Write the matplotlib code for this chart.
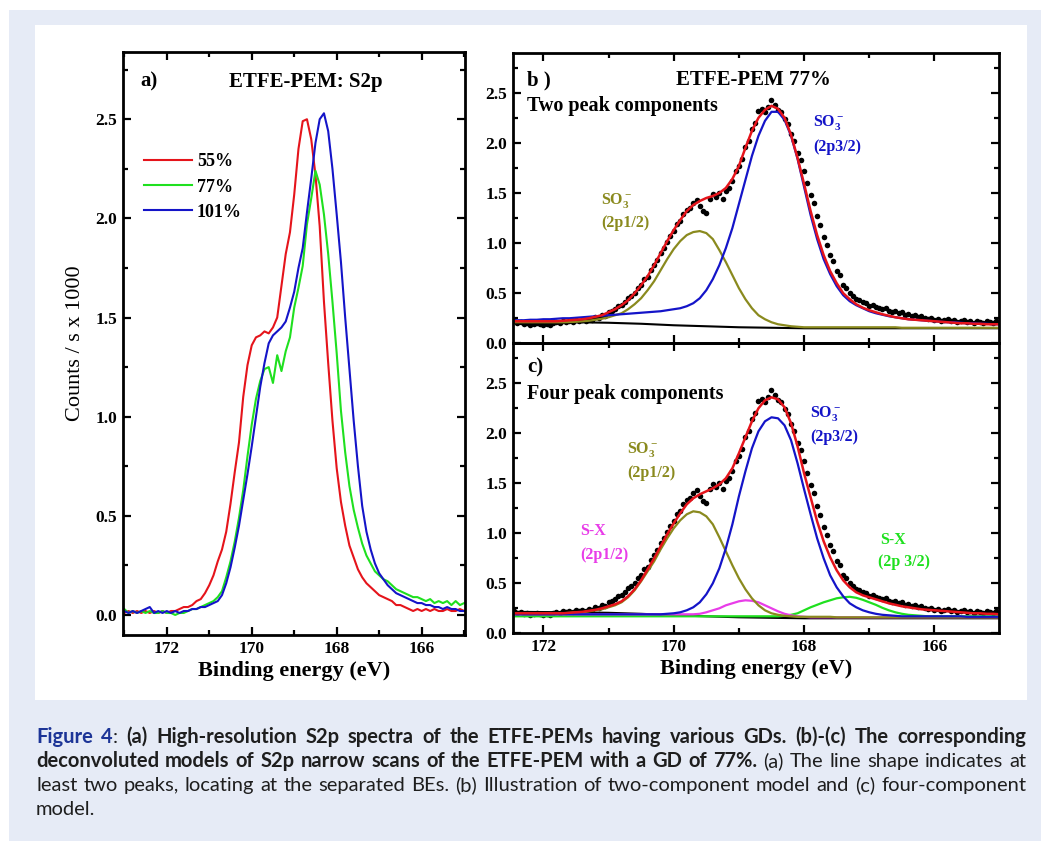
import numpy as np
import matplotlib
matplotlib.use('Agg')
import matplotlib.pyplot as plt
from matplotlib import font_manager
from matplotlib.patches import Rectangle
from matplotlib.ticker import MultipleLocator, FormatStrFormatter

plt.rcParams['font.family'] = ['Liberation Serif', 'DejaVu Serif']
plt.rcParams['font.weight'] = 'bold'
plt.rcParams['axes.labelweight'] = 'bold'
plt.rcParams['mathtext.fontset'] = 'custom'
plt.rcParams['mathtext.rm'] = 'Liberation Serif:bold'
plt.rcParams['mathtext.bf'] = 'Liberation Serif:bold'
plt.rcParams['mathtext.it'] = 'Liberation Serif:bold'
plt.rcParams['mathtext.default'] = 'bf'

W, H = 1041, 841

# ---------------- panel a: S2p spectra, 0.1 eV steps 173.0 -> 165.0
be_a = np.linspace(173.0, 165.0, 81)
s2p_55 = [0.01, 0.02, 0.01, 0.02, 0.01, 0.02, 0.01, 0.02, 0.01, 0.02,
          0.01, 0.02, 0.02, 0.03, 0.04, 0.04, 0.05, 0.07, 0.08, 0.11,
          0.15, 0.20, 0.27, 0.33, 0.42, 0.56, 0.72, 0.87, 1.10, 1.26,
          1.36, 1.40, 1.41, 1.43, 1.42, 1.45, 1.50, 1.66, 1.82, 1.93,
          2.12, 2.35, 2.49, 2.50, 2.40, 2.22, 1.96, 1.58, 1.27, 0.98,
          0.74, 0.57, 0.45, 0.35, 0.29, 0.23, 0.19, 0.16, 0.14, 0.12,
          0.10, 0.09, 0.08, 0.07, 0.05, 0.05, 0.04, 0.03, 0.02, 0.03,
          0.02, 0.03, 0.02, 0.03, 0.02, 0.02, 0.03, 0.02, 0.02, 0.03,
          0.02]
s2p_77 = [0.03, 0.01, 0.02, 0.01, 0.02, 0.01, 0.02, 0.01, 0.01, 0.02,
          0.01, 0.01, 0.00, 0.01, 0.01, 0.02, 0.03, 0.03, 0.04, 0.05,
          0.06, 0.07, 0.09, 0.12, 0.19, 0.27, 0.37, 0.49, 0.63, 0.80,
          0.96, 1.09, 1.18, 1.24, 1.25, 1.17, 1.31, 1.23, 1.33, 1.40,
          1.55, 1.65, 1.76, 1.97, 2.10, 2.24, 2.17, 2.02, 1.82, 1.58,
          1.32, 1.03, 0.82, 0.65, 0.53, 0.44, 0.36, 0.30, 0.26, 0.22,
          0.20, 0.18, 0.17, 0.15, 0.13, 0.12, 0.11, 0.10, 0.09, 0.09,
          0.08, 0.07, 0.08, 0.06, 0.07, 0.06, 0.07, 0.05, 0.07, 0.05,
          0.06]
s2p_101 = [0.02, 0.01, 0.02, 0.01, 0.02, 0.03, 0.04, 0.01, 0.02, 0.01,
           0.02, 0.01, 0.02, 0.01, 0.02, 0.02, 0.03, 0.03, 0.04, 0.04,
           0.05, 0.06, 0.07, 0.10, 0.16, 0.24, 0.34, 0.45, 0.58, 0.71,
           0.85, 1.00, 1.15, 1.27, 1.37, 1.41, 1.43, 1.45, 1.48, 1.55,
           1.63, 1.75, 1.85, 2.03, 2.20, 2.38, 2.50, 2.53, 2.44, 2.25,
           2.02, 1.78, 1.50, 1.24, 0.98, 0.75, 0.55, 0.42, 0.33, 0.26,
           0.21, 0.18, 0.15, 0.13, 0.11, 0.10, 0.09, 0.08, 0.07, 0.06,
           0.06, 0.05, 0.05, 0.04, 0.04, 0.03, 0.04, 0.03, 0.03, 0.02,
           0.02]
labels_a = ['55%', '77%', '101%']

# ---------------- panels b, c: ETFE-PEM 77 % measured points, 0.05 eV steps 172.5 -> 165.0
meas_77 = [0.21, 0.22, 0.20, 0.21, 0.19, 0.20, 0.18, 0.19, 0.20, 0.19, 0.18,
           0.19, 0.18, 0.20, 0.21, 0.20, 0.22, 0.21, 0.22, 0.21, 0.23,
           0.22, 0.23, 0.22, 0.24, 0.23, 0.26, 0.25, 0.28, 0.27, 0.31,
           0.32, 0.34, 0.37, 0.38, 0.41, 0.45, 0.47, 0.50, 0.55, 0.58,
           0.64, 0.66, 0.73, 0.78, 0.83, 0.90, 0.95, 1.01, 1.07, 1.12,
           1.19, 1.22, 1.29, 1.33, 1.35, 1.40, 1.43, 1.37, 1.32, 1.30,
           1.44, 1.49, 1.46, 1.50, 1.44, 1.52, 1.55, 1.62, 1.72, 1.77,
           1.84, 1.96, 2.02, 2.14, 2.20, 2.32, 2.34, 2.31, 2.36, 2.43,
           2.38, 2.33, 2.31, 2.24, 2.19, 2.09, 2.02, 1.90, 1.83, 1.72,
           1.60, 1.48, 1.40, 1.27, 1.18, 1.06, 0.98, 0.88, 0.82, 0.72,
           0.68, 0.58, 0.55, 0.50, 0.47, 0.44, 0.43, 0.41, 0.40, 0.37,
           0.38, 0.36, 0.35, 0.34, 0.35, 0.32, 0.31, 0.32, 0.30, 0.31,
           0.28, 0.29, 0.27, 0.28, 0.26, 0.27, 0.25, 0.24, 0.25, 0.23,
           0.24, 0.22, 0.23, 0.24, 0.22, 0.23, 0.21, 0.22, 0.23, 0.21,
           0.22, 0.20, 0.22, 0.21, 0.20, 0.22, 0.21, 0.20, 0.22, 0.21]
be_meas = np.linspace(172.5, 165.0, len(meas_77))

# fitted curves, 0.1 eV steps 172.5 -> 165.0
fit_b_env = [0.22, 0.22, 0.22, 0.22, 0.22, 0.22, 0.22, 0.22, 0.225, 0.23,
             0.235, 0.24, 0.25, 0.265, 0.28, 0.31, 0.34, 0.38, 0.43, 0.50,
             0.58, 0.67, 0.78, 0.90, 1.02, 1.13, 1.23, 1.32, 1.38, 1.42,
             1.45, 1.47, 1.50, 1.55, 1.64, 1.77, 1.95, 2.12, 2.25, 2.33,
             2.37, 2.34, 2.25, 2.08, 1.85, 1.59, 1.32, 1.08, 0.88, 0.72,
             0.60, 0.50, 0.44, 0.39, 0.355, 0.33, 0.31, 0.29, 0.275, 0.26,
             0.25, 0.24, 0.235, 0.23, 0.225, 0.22, 0.215, 0.21, 0.205, 0.20,
             0.20, 0.195, 0.195, 0.19, 0.19, 0.19]
fit_b_so3_32 = [0.23, 0.23, 0.23, 0.235, 0.235, 0.24, 0.24, 0.245, 0.25, 0.25,
                0.255, 0.26, 0.265, 0.27, 0.275, 0.28, 0.285, 0.29, 0.295, 0.30,
                0.305, 0.31, 0.315, 0.32, 0.33, 0.34, 0.35, 0.37, 0.40, 0.45,
                0.53, 0.64, 0.78, 0.95, 1.15, 1.39, 1.63, 1.87, 2.07, 2.22,
                2.31, 2.31, 2.23, 2.07, 1.84, 1.56, 1.28, 1.04, 0.84, 0.69,
                0.57, 0.48, 0.42, 0.38, 0.35, 0.32, 0.30, 0.285, 0.27, 0.26,
                0.25, 0.24, 0.235, 0.23, 0.225, 0.22, 0.215, 0.21, 0.21, 0.205,
                0.20, 0.20, 0.195, 0.195, 0.19, 0.19]
fit_b_so3_12 = [0.21, 0.21, 0.21, 0.21, 0.21, 0.21, 0.21, 0.21, 0.21, 0.212,
                0.215, 0.22, 0.225, 0.235, 0.245, 0.26, 0.28, 0.30, 0.34, 0.39,
                0.45, 0.53, 0.62, 0.73, 0.84, 0.94, 1.02, 1.08, 1.11, 1.12,
                1.10, 1.04, 0.93, 0.81, 0.68, 0.55, 0.44, 0.35, 0.28, 0.24,
                0.21, 0.19, 0.18, 0.17, 0.165, 0.16, 0.16, 0.16, 0.16, 0.16,
                0.16, 0.16, 0.16, 0.16, 0.16, 0.16, 0.16, 0.16, 0.16, 0.16,
                0.155, 0.155, 0.155, 0.155, 0.155, 0.155, 0.155, 0.155, 0.155, 0.155,
                0.155, 0.155, 0.155, 0.155, 0.155, 0.155]

fit_c_env = [0.20, 0.20, 0.20, 0.20, 0.20, 0.20, 0.20, 0.20, 0.20, 0.205,
             0.21, 0.215, 0.225, 0.235, 0.25, 0.27, 0.29, 0.32, 0.37, 0.44,
             0.53, 0.64, 0.75, 0.87, 0.99, 1.10, 1.20, 1.29, 1.35, 1.39,
             1.42, 1.45, 1.49, 1.55, 1.65, 1.80, 1.96, 2.12, 2.25, 2.33,
             2.36, 2.34, 2.26, 2.10, 1.87, 1.60, 1.36, 1.12, 0.92, 0.76,
             0.63, 0.53, 0.46, 0.41, 0.38, 0.36, 0.34, 0.32, 0.30, 0.285,
             0.27, 0.26, 0.25, 0.24, 0.235, 0.23, 0.225, 0.22, 0.215, 0.21,
             0.205, 0.20, 0.20, 0.195, 0.195, 0.19]
fit_c_so3_12 = [0.20, 0.20, 0.20, 0.20, 0.20, 0.20, 0.20, 0.20, 0.20, 0.205,
                0.21, 0.21, 0.22, 0.23, 0.24, 0.26, 0.28, 0.31, 0.36, 0.43,
                0.52, 0.62, 0.72, 0.84, 0.95, 1.05, 1.13, 1.19, 1.22, 1.21,
                1.17, 1.09, 0.96, 0.82, 0.68, 0.55, 0.44, 0.35, 0.28, 0.23,
                0.20, 0.185, 0.175, 0.17, 0.165, 0.165, 0.165, 0.165, 0.165, 0.165,
                0.16, 0.16, 0.16, 0.16, 0.16, 0.16, 0.16, 0.16, 0.16, 0.16,
                0.16, 0.16, 0.16, 0.16, 0.16, 0.16, 0.16, 0.16, 0.16, 0.16,
                0.16, 0.16, 0.16, 0.16, 0.16, 0.16]
fit_c_so3_32 = [0.19, 0.19, 0.19, 0.19, 0.19, 0.19, 0.19, 0.19, 0.19, 0.19,
                0.19, 0.19, 0.19, 0.19, 0.19, 0.19, 0.19, 0.19, 0.19, 0.19,
                0.19, 0.19, 0.19, 0.19, 0.195, 0.20, 0.21, 0.23, 0.26, 0.31,
                0.39, 0.50, 0.65, 0.85, 1.09, 1.37, 1.62, 1.85, 2.02, 2.12,
                2.16, 2.15, 2.08, 1.93, 1.70, 1.44, 1.19, 0.95, 0.75, 0.58,
                0.46, 0.37, 0.30, 0.26, 0.23, 0.21, 0.195, 0.185, 0.18, 0.175,
                0.17, 0.17, 0.17, 0.17, 0.17, 0.17, 0.17, 0.17, 0.17, 0.17,
                0.165, 0.165, 0.165, 0.165, 0.165, 0.165]
fit_c_sx_12 = [0.19, 0.19, 0.19, 0.19, 0.19, 0.19, 0.19, 0.19, 0.19, 0.19,
               0.19, 0.19, 0.19, 0.19, 0.19, 0.19, 0.19, 0.19, 0.19, 0.19,
               0.19, 0.19, 0.19, 0.19, 0.19, 0.19, 0.19, 0.19, 0.19, 0.195,
               0.21, 0.23, 0.25, 0.28, 0.30, 0.32, 0.33, 0.325, 0.31, 0.28,
               0.25, 0.22, 0.195, 0.18, 0.17, 0.165, 0.16, 0.16, 0.16, 0.16,
               0.16, 0.16, 0.16, 0.16, 0.16, 0.16, 0.16, 0.16, 0.16, 0.16,
               0.16, 0.16, 0.16, 0.16, 0.16, 0.16, 0.16, 0.16, 0.16, 0.16,
               0.16, 0.16, 0.16, 0.16, 0.16, 0.16]
fit_c_sx_32 = [0.17, 0.17, 0.17, 0.17, 0.17, 0.17, 0.17, 0.17, 0.17, 0.17,
               0.17, 0.17, 0.17, 0.17, 0.17, 0.17, 0.17, 0.17, 0.17, 0.17,
               0.17, 0.17, 0.17, 0.17, 0.17, 0.17, 0.17, 0.17, 0.17, 0.17,
               0.17, 0.17, 0.17, 0.17, 0.17, 0.17, 0.17, 0.17, 0.17, 0.17,
               0.17, 0.17, 0.175, 0.185, 0.20, 0.23, 0.26, 0.285, 0.31, 0.33,
               0.35, 0.36, 0.365, 0.355, 0.335, 0.31, 0.285, 0.255, 0.23, 0.21,
               0.195, 0.185, 0.18, 0.175, 0.17, 0.17, 0.17, 0.17, 0.17, 0.17,
               0.17, 0.17, 0.17, 0.17, 0.17, 0.17]
be_fit = np.linspace(172.5, 165.0, len(fit_b_env))

# Shirley-type background
be_bg = [172.5, 171.5, 171.0, 170.5, 170.0, 169.5, 169.0, 168.5, 168.0, 165.0]
bg = [0.215, 0.21, 0.205, 0.195, 0.18, 0.17, 0.16, 0.155, 0.15, 0.15]

RED = '#e5141b'
GREEN = '#1fe01f'
BLUE = '#1414c8'
OLIVE = '#8a8a1e'
MAGENTA = '#e83ce8'
LAV = '#e6ebf6'

fig = plt.figure(figsize=(W / 100, H / 100), dpi=100)
fig.add_artist(Rectangle((9 / W, 0), 1, 1 - 10 / H, transform=fig.transFigure,
                         facecolor=LAV, edgecolor='none', zorder=-3))
fig.add_artist(Rectangle((35 / W, 1 - 700 / H), 992 / W, 675 / H, transform=fig.transFigure,
                         facecolor='white', edgecolor='none', zorder=-2))


def px_axes(l, t, r, b):
    return fig.add_axes([l / W, 1 - b / H, (r - l) / W, (b - t) / H])


def style(ax, xlabels=True):
    for s in ax.spines.values():
        s.set_linewidth(2.0)
    ax.xaxis.set_major_locator(MultipleLocator(2))
    ax.xaxis.set_minor_locator(MultipleLocator(1))
    ax.yaxis.set_major_locator(MultipleLocator(0.5))
    ax.yaxis.set_minor_locator(MultipleLocator(0.25))
    ax.yaxis.set_major_formatter(FormatStrFormatter('%.1f'))
    ax.tick_params(which='both', direction='in', top=True, right=True,
                   width=1.6, labelsize=12.5, pad=4)
    ax.tick_params(which='major', length=5.5)
    ax.tick_params(which='minor', length=3.5)
    if not xlabels:
        ax.tick_params(labelbottom=False)
    ax.set_facecolor('none')


# ---- a
ax1 = px_axes(123, 52, 465, 635)
for ys, c, lab in zip([s2p_55, s2p_77, s2p_101], [RED, GREEN, BLUE], labels_a):
    ax1.plot(be_a, ys, color=c, lw=1.5, label=lab)
ax1.set_xlim(173.03, 164.98)
ax1.set_ylim(-0.101, 2.839)
style(ax1)
ax1.set_xlabel('Binding energy (eV)', fontsize=16, fontweight='bold', labelpad=3)
ax1.set_ylabel('Counts / s x 1000', fontsize=16, fontweight='normal', labelpad=8)
ax1.text(0.05, 0.949, 'a)', transform=ax1.transAxes, fontsize=15, va='center')
ax1.text(0.535, 0.949, 'ETFE-PEM: S2p', transform=ax1.transAxes, fontsize=15,
         va='center', ha='center')
ax1.legend(loc='upper left', bbox_to_anchor=(0.06, 0.826), frameon=False, fontsize=13,
           handlelength=2.7, handletextpad=0.25, labelspacing=0.45, borderpad=0,
           borderaxespad=0)

# ---- b
ax2 = px_axes(512.7, 52.7, 999, 343.3)
ax2.plot(be_meas, meas_77, 'o', color='black', ms=4, mec='none')
ax2.plot(be_bg, bg, color='black', lw=1.5)
ax2.plot(be_fit, fit_b_so3_12, color=OLIVE, lw=1.6)
ax2.plot(be_fit, fit_b_so3_32, color=BLUE, lw=1.6)
ax2.plot(be_fit, fit_b_env, color=RED, lw=1.8)
ax2.set_xlim(172.47, 165.01)
ax2.set_ylim(0, 2.9)
style(ax2, xlabels=False)
ax2.text(0.029, 0.906, 'b )', transform=ax2.transAxes, fontsize=15, va='center')
ax2.text(0.496, 0.906, 'ETFE-PEM 77%', transform=ax2.transAxes, fontsize=15,
         va='center', ha='center')
ax2.text(0.029, 0.816, 'Two peak components', transform=ax2.transAxes, fontsize=14.5,
         va='center')
ax2.text(0.618, 0.748, r'SO$_3^-$', transform=ax2.transAxes, fontsize=11.5,
         color=BLUE, va='baseline')
ax2.text(0.618, 0.675, '(2p3/2)', transform=ax2.transAxes, fontsize=11.5,
         color=BLUE, va='center')
ax2.text(0.182, 0.479, r'SO$_3^-$', transform=ax2.transAxes, fontsize=11.5,
         color=OLIVE, va='baseline')
ax2.text(0.182, 0.414, '(2p1/2)', transform=ax2.transAxes, fontsize=11.5,
         color=OLIVE, va='center')

# ---- c
ax3 = px_axes(512.7, 343.3, 999, 633.3)
ax3.plot(be_meas, meas_77, 'o', color='black', ms=4, mec='none')
ax3.plot(be_bg, bg, color='black', lw=1.5)
ax3.plot(be_fit, fit_c_sx_32, color=GREEN, lw=1.6)
ax3.plot(be_fit, fit_c_sx_12, color=MAGENTA, lw=1.6)
ax3.plot(be_fit, fit_c_so3_12, color=OLIVE, lw=1.6)
ax3.plot(be_fit, fit_c_so3_32, color=BLUE, lw=1.6)
ax3.plot(be_fit, fit_c_env, color=RED, lw=1.8)
ax3.set_xlim(172.47, 165.01)
ax3.set_ylim(0, 2.9)
style(ax3)
ax3.set_xlabel('Binding energy (eV)', fontsize=16, fontweight='bold', labelpad=3)
ax3.text(0.029, 0.915, 'c)', transform=ax3.transAxes, fontsize=15, va='center')
ax3.text(0.029, 0.825, 'Four peak components', transform=ax3.transAxes, fontsize=14.5,
         va='center')
ax3.text(0.235, 0.622, r'SO$_3^-$', transform=ax3.transAxes, fontsize=11.5,
         color=OLIVE, va='baseline')
ax3.text(0.235, 0.553, '(2p1/2)', transform=ax3.transAxes, fontsize=11.5,
         color=OLIVE, va='center')
ax3.text(0.611, 0.746, r'SO$_3^-$', transform=ax3.transAxes, fontsize=11.5,
         color=BLUE, va='baseline')
ax3.text(0.611, 0.677, '(2p3/2)', transform=ax3.transAxes, fontsize=11.5,
         color=BLUE, va='center')
ax3.text(0.138, 0.353, 'S-X', transform=ax3.transAxes, fontsize=11.5,
         color=MAGENTA, va='center')
ax3.text(0.138, 0.270, '(2p1/2)', transform=ax3.transAxes, fontsize=11.5,
         color=MAGENTA, va='center')
ax3.text(0.755, 0.322, 'S-X', transform=ax3.transAxes, fontsize=11.5,
         color=GREEN, va='center')
ax3.text(0.751, 0.246, '(2p 3/2)', transform=ax3.transAxes, fontsize=11.5,
         color=GREEN, va='center')


# ---------------- caption, justified word by word
def pick_font(cands):
    for c in cands:
        try:
            font_manager.findfont(font_manager.FontProperties(family=c),
                                  fallback_to_default=False)
            return c
        except ValueError:
            continue
    return 'DejaVu Sans'


CAP_FONT = [pick_font(['Lato', 'Open Sans']), 'DejaVu Sans']
CAP_BLUE = '#1d3597'
CAP_INK = '#1e1e1e'
caption = [
    [('Figure 4', 'bold', CAP_BLUE), (':', 'normal', CAP_INK),
     (' (a) High-resolution S2p spectra of the ETFE-PEMs having various GDs. (b)-(c) The corresponding',
      'bold', CAP_INK)],
    [('deconvoluted models of S2p narrow scans of the ETFE-PEM with a GD of 77%.', 'bold', CAP_INK),
     (' (a) The line shape indicates at', 'normal', CAP_INK)],
    [('least two peaks, locating at the separated BEs. (b) Illustration of two-component model and (c) four-component',
      'normal', CAP_INK)],
    [('model.', 'normal', CAP_INK)],
]
cap_x0, cap_x1 = 36, 1026
cap_y = [743, 767, 791, 815]

renderer = fig.canvas.get_renderer()


def measure(text, weight, size):
    t = fig.text(0, 0, text, fontsize=size, fontweight=weight, family=CAP_FONT)
    w = t.get_window_extent(renderer).width
    t.remove()
    return w


def tokens(line):
    out = []
    for text, weight, color in line:
        parts = text.split(' ')
        for i, p in enumerate(parts):
            if p == '':
                continue
            gap = (i > 0) or text.startswith(' ')
            out.append((p, weight, color, gap if out else False))
    return out


def natural(line, size):
    toks = tokens(line)
    sp = measure('x x', 'normal', size) - measure('xx', 'normal', size)
    return sum(measure(t[0], t[1], size) for t in toks) + sp * sum(t[3] for t in toks)


base = 14.0
fit = min((cap_x1 - cap_x0) / natural(ln, base) for ln in caption[:3])
cap_size = min(base * fit * 0.995, 15.5)
space_w = measure('x x', 'normal', cap_size) - measure('xx', 'normal', cap_size)

for k, (line, y) in enumerate(zip(caption, cap_y)):
    toks = tokens(line)
    widths = [measure(t[0], t[1], cap_size) for t in toks]
    ngaps = sum(t[3] for t in toks)
    if k < 3 and ngaps:
        gap = (cap_x1 - cap_x0 - sum(widths)) / ngaps
    else:
        gap = space_w
    x = cap_x0
    for (word, weight, color, g), w in zip(toks, widths):
        if g:
            x += gap
        fig.text(x / W, 1 - y / H, word, fontsize=cap_size, fontweight=weight,
                 color=color, family=CAP_FONT, va='baseline', ha='left')
        x += w

fig.savefig('out.png', dpi=100)
